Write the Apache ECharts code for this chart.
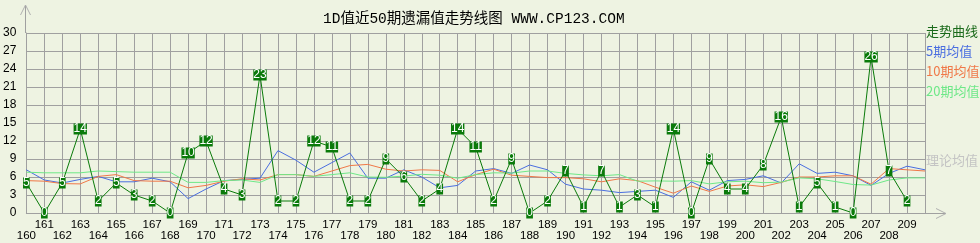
<!DOCTYPE html>
<html><head><meta charset="utf-8">
<script src="https://cdn.jsdelivr.net/npm/echarts@6/dist/echarts.min.js"></script>
<style>html,body{margin:0;padding:0;background:#EEF3E2}#c{width:980px;height:243px}</style>
</head><body><div id="c"></div>
<script>
// periods (last slot is the next, not-yet-drawn period)
const periods = ['160','161','162','163','164','165','166','167','168','169',
  '170','171','172','173','174','175','176','177','178','179',
  '180','181','182','183','184','185','186','187','188','189',
  '190','191','192','193','194','195','196','197','198','199',
  '200','201','202','203','204','205','206','207','208','209',''];
// missing values (走势曲线)
const missing = [5,0,5,14,2,5,3,2,0,10,12,4,3,23,2,2,12,11,2,2,
  9,6,2,4,14,11,2,9,0,2,7,1,7,1,3,1,14,0,9,4,
  4,8,16,1,5,1,0,26,7,2];
// 5期均值
const avg5 = [7.2,5.5,5.0,5.6,6.1,5.2,5.2,5.8,5.2,2.4,
  4.0,5.4,5.6,5.8,10.4,8.8,6.8,8.4,10.0,5.8,
  5.8,7.2,6.0,4.2,4.6,7.0,7.4,6.6,8.0,7.2,
  4.8,4.0,3.8,3.4,3.6,3.8,2.6,5.2,3.8,5.4,
  5.6,6.2,5.0,8.2,6.6,6.8,6.2,4.6,6.6,7.8,7.2];
// 10期均值
const avg10 = [5.4,5.3,4.9,4.85,6.1,6.4,5.4,5.3,5.3,4.2,
  4.6,5.3,5.7,5.5,6.4,6.4,6.1,7.0,7.9,8.1,
  7.3,7.0,7.2,7.1,5.2,6.4,7.3,6.3,6.1,5.9,
  5.9,5.7,5.2,5.7,5.4,4.3,3.3,4.5,3.6,4.5,
  4.7,4.4,5.1,6.0,6.0,6.2,6.2,4.8,7.4,7.2,7.0];
// 20期均值
const avg20 = [6.8,6.7,6.7,6.7,7.0,6.9,6.8,6.8,6.8,5.1,
  5.1,5.4,5.5,5.1,6.4,6.4,6.1,6.4,6.7,6.0,
  5.95,6.15,6.45,6.3,5.8,6.4,6.7,6.65,7.0,7.0,
  6.6,6.35,6.2,6.4,5.3,5.35,5.3,5.4,4.85,5.2,
  5.3,5.05,5.15,5.85,5.7,5.25,4.75,4.65,5.5,5.85,5.85];
const seriesNames = ['走势曲线','5期均值','10期均值','20期均值'];
const seriesColors = ['#0a7a0a','#4a6ee0','#f07848','#6ee888'];
const titleText = '1D值近50期遗漏值走势线图 WWW.CP123.COM';
const theoryText = '理论均值';

const GRIDC = '#a0a0a0';
const L = 25, R = 925, T = 33, B = 213;
const chart = echarts.init(document.getElementById('c'), null, {renderer: 'canvas'});
const option = {
  backgroundColor: '#EEF3E2',
  animation: false,
  title: {
    text: titleText, left: 323, top: 12, padding: 0,
    textStyle: {fontSize: 14.5, fontWeight: 'normal', color: '#000',
      fontFamily: "'Liberation Mono','Noto Sans CJK SC'"}
  },
  legend: {
    orient: 'vertical', left: R - 4, top: 25, padding: 0,
    itemWidth: 0, itemHeight: 0, itemGap: 7, selectedMode: false,
    icon: 'none',
    textStyle: {fontSize: 13, lineHeight: 13, fontFamily: "'Noto Sans CJK SC'"},
    data: seriesNames.map((n, i) => ({name: n, icon: 'none', textStyle: {color: i === 0 ? '#1a6a1a' : seriesColors[i]}}))
  },
  grid: {left: L, right: 980 - R, top: T, bottom: 243 - B},
  xAxis: {
    type: 'category', data: periods, boundaryGap: false,
    axisLine: {lineStyle: {color: GRIDC}},
    axisTick: {show: false},
    axisLabel: {interval: 0, fontSize: 11.5, color: '#000', margin: 7, lineHeight: 10.5,
      fontFamily: "'Liberation Sans'",
      formatter: (v, i) => (i % 2 ? v : '\n' + v)},
    splitLine: {show: true, interval: 0, lineStyle: {color: GRIDC}}
  },
  yAxis: {
    type: 'value', min: 0, max: 30, interval: 3,
    axisLine: {show: true, lineStyle: {color: GRIDC}},
    axisTick: {show: false},
    axisLabel: {fontSize: 12, color: '#000', margin: 10, fontFamily: "'Liberation Sans'"},
    splitLine: {lineStyle: {color: GRIDC}}
  },
  series: [
    {name: seriesNames[1], type: 'line', data: avg5, symbol: 'none', lineStyle: {color: seriesColors[1], width: 1}, itemStyle: {color: seriesColors[1]}},
    {name: seriesNames[2], type: 'line', data: avg10, symbol: 'none', lineStyle: {color: seriesColors[2], width: 1}, itemStyle: {color: seriesColors[2]}},
    {name: seriesNames[3], type: 'line', data: avg20, symbol: 'none', lineStyle: {color: seriesColors[3], width: 1}, itemStyle: {color: seriesColors[3]}},
    {name: seriesNames[0], type: 'line', data: missing, symbol: 'rect', symbolSize: 1,
      lineStyle: {color: seriesColors[0], width: 1}, itemStyle: {color: seriesColors[0]},
      label: {show: true, position: 'inside', color: '#fff', backgroundColor: '#0a7a0a',
        fontSize: 12, lineHeight: 11, padding: 0, fontFamily: "'Liberation Sans'"}}
  ],
  graphic: [
    {type: 'polyline', shape: {points: [[L + 0.5, T], [L + 0.5, 5]]}, style: {stroke: GRIDC, lineWidth: 1, fill: null}},
    {type: 'polyline', shape: {points: [[L - 4.5, 15], [L + 0.5, 5], [L + 5.5, 15]]}, style: {stroke: '#b0b0b0', lineWidth: 1, fill: null}},
    {type: 'polyline', shape: {points: [[R, B + 0.5], [946, B + 0.5]]}, style: {stroke: GRIDC, lineWidth: 1, fill: null}},
    {type: 'polyline', shape: {points: [[936, B - 4.5], [946, B + 0.5], [936, B + 5.5]]}, style: {stroke: '#b0b0b0', lineWidth: 1, fill: null}},
    {type: 'text', left: R + 1, top: 154, style: {text: theoryText, fill: '#c4c4c4', fontSize: 13, fontFamily: "'Noto Sans CJK SC'"}}
  ]
};
chart.setOption(option);
</script>
</body></html>
